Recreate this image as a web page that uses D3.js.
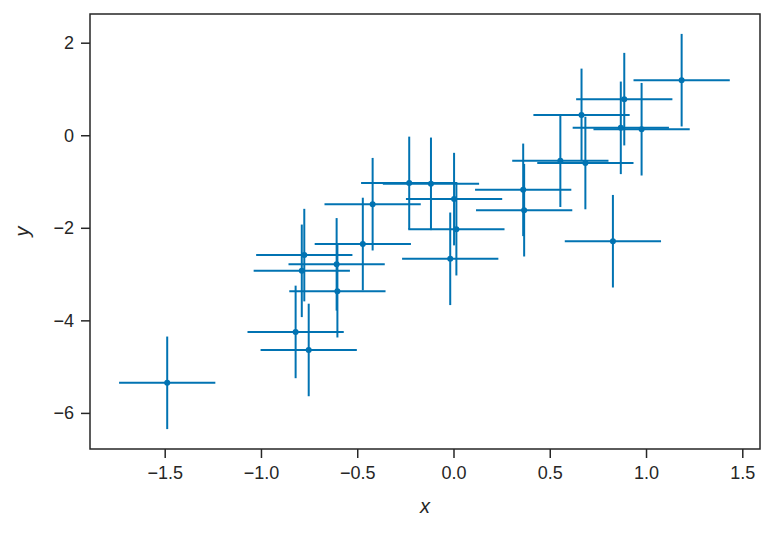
<!DOCTYPE html>
<html lang="en">
<head>
<meta charset="UTF-8">
<title>Error bars</title>
<script src="https://d3js.org/d3.v7.min.js"></script>
<style>
  body { margin: 0; background: #fff; font-family: "Liberation Sans", Arial, sans-serif; }
  .tick text { font-size: 18px; fill: #262626; }
  .tick line { stroke: #262626; }
</style>
</head>
<body>
<div id="chart"></div>
<script>
// --- data ---
const xs = [-1.487, -0.820, -0.752, -0.775, -0.788, -0.607, -0.603, -0.471, -0.420, -0.230,
            -0.117, 0.003, 0.015, -0.017, 0.362, 0.367, 0.555, 0.685, 0.665, 0.887,
            0.869, 0.977, 0.828, 1.185];
const ys = [-5.35, -4.25, -4.64, -2.59, -2.93, -2.79, -3.37, -2.35, -1.49, -1.03,
            -1.05, -1.38, -2.03, -2.67, -1.18, -1.62, -0.55, -0.60, 0.44, 0.78,
            0.16, 0.13, -2.29, 1.19];
const xErr = 0.25;
const yErr = 1.0;
const xTicks = [-1.5, -1.0, -0.5, 0.0, 0.5, 1.0, 1.5];
const yTicks = [-6, -4, -2, 0, 2];

const W = 773, H = 533;
const margin = { top: 14, right: 13, bottom: 84, left: 90 };
const color = "#0173b2";

const svg = d3.select("#chart").append("svg")
  .attr("width", W).attr("height", H);

const x = d3.scaleLinear().domain([-1.888, 1.592]).range([margin.left, W - margin.right]);
const y = d3.scaleLinear().domain([-6.78, 2.62]).range([H - margin.bottom, margin.top]);

const pts = xs.map((v, i) => ({ x: v, y: ys[i] }));

// --- error bars ---
const g = svg.append("g");
g.selectAll(".xbar").data(pts).join("line")
  .attr("x1", d => x(d.x - xErr)).attr("x2", d => x(d.x + xErr))
  .attr("y1", d => y(d.y)).attr("y2", d => y(d.y))
  .attr("stroke", color).attr("stroke-width", 2);
g.selectAll(".ybar").data(pts).join("line")
  .attr("x1", d => x(d.x)).attr("x2", d => x(d.x))
  .attr("y1", d => y(d.y - yErr)).attr("y2", d => y(d.y + yErr))
  .attr("stroke", color).attr("stroke-width", 2);
g.selectAll("circle").data(pts).join("circle")
  .attr("cx", d => x(d.x)).attr("cy", d => y(d.y))
  .attr("r", 3).attr("fill", color);

// --- axes ---
svg.append("g")
  .attr("transform", `translate(0,${H - margin.bottom})`)
  .call(d3.axisBottom(x).tickValues(xTicks).tickFormat(d3.format(".1f")).tickSize(9).tickSizeOuter(0).tickPadding(8));
svg.append("g")
  .attr("transform", `translate(${margin.left},0)`)
  .call(d3.axisLeft(y).tickValues(yTicks).tickFormat(d3.format("d")).tickSize(9).tickSizeOuter(0).tickPadding(7));
svg.selectAll(".tick line").attr("stroke-width", 1.5);
svg.selectAll(".domain").remove();

// frame
svg.append("rect")
  .attr("x", margin.left).attr("y", margin.top)
  .attr("width", W - margin.left - margin.right)
  .attr("height", H - margin.top - margin.bottom)
  .attr("fill", "none").attr("stroke", "#262626").attr("stroke-width", 1.5);

// axis labels
svg.append("text")
  .attr("x", (margin.left + W - margin.right) / 2).attr("y", 513)
  .attr("text-anchor", "middle").attr("font-style", "italic")
  .attr("font-size", 20).attr("fill", "#262626").text("x");
svg.append("text")
  .attr("transform", `translate(29,${(margin.top + H - margin.bottom) / 2}) rotate(-90)`)
  .attr("text-anchor", "middle").attr("font-style", "italic")
  .attr("font-size", 20).attr("fill", "#262626").text("y");
</script>
</body>
</html>
